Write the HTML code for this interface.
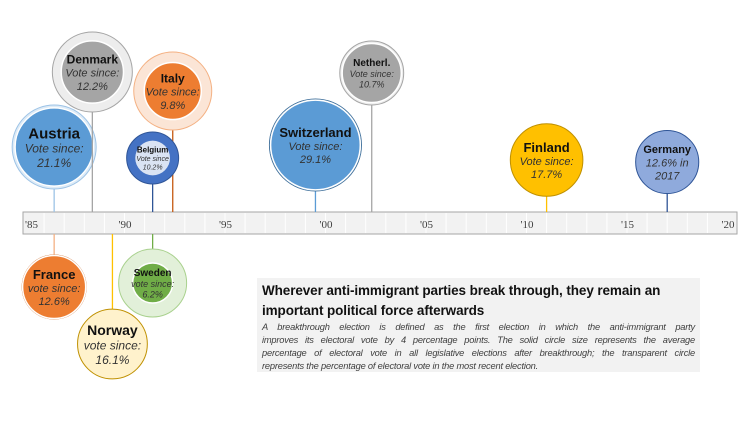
<!DOCTYPE html>
<html><head><meta charset="utf-8"><style>
body{margin:0;background:#fff;width:754px;height:424px;overflow:hidden;font-family:"Liberation Sans",sans-serif}
#box{position:absolute;left:257px;top:278px;width:433px;height:88px;padding:3px 5px;background:#f2f2f2}
#box h1{margin:0;font-size:13.5px;line-height:20px;font-weight:bold;color:#111;letter-spacing:-0.1px}
#box p{margin:0;font-size:9.3px;line-height:13px;font-style:italic;color:#404040;letter-spacing:-0.2px}
#box p span{display:block;white-space:nowrap;text-align:justify;text-align-last:justify}
#box p span.last{text-align-last:left}
</style></head><body>
<svg id="chart" width="754" height="424" style="position:absolute;left:0;top:0"></svg>
<div id="box">
<h1>Wherever anti-immigrant parties break through, they remain an important political force afterwards</h1>
<p><span>A breakthrough election is defined as the first election in which the anti-immigrant party</span><span>improves its electoral vote by 4 percentage points. The solid circle size represents the average</span><span>percentage of electoral vote in all legislative elections after breakthrough; the transparent circle</span><span class="last">represents the percentage of electoral vote in the most recent election.</span></p>
</div>
<script>
const countries=["Austria","Denmark","Italy","Belgium","Switzerland","Netherl.","Finland","Germany","France","Norway","Sweden"];
const years=[1986.5,1988.4,1992.4,1991.4,1999.5,2002.3,2011,2017,1986.5,1989.4,1991.4];
const avgVote=[21.1,12.2,9.8,10.2,29.1,10.7,17.7,12.6,12.6,16.1,6.2];
const recentVote=[25,22.3,21,2.5,30.9,13,0,0,13,15.1,15.1];
const labels=["Vote since:\n21.1%","Vote since:\n12.2%","Vote since:\n9.8%","Vote since\n10.2%","Vote since:\n29.1%","Vote since:\n10.7%","Vote since:\n17.7%","12.6% in\n2017","vote since:\n12.6%","vote since:\n16.1%","vote since:\n6.2%"];
const tickYears=[1985,1990,1995,2000,2005,2010,2015,2020];
const tickLabels=["'85","'90","'95","'00","'05","'10","'15","'20"];
// layout (not data)
const cyPos=[147,72,91,158,145,73,160,162,287,344,283];
const fills=["#5b9bd5","#a5a5a5","#ed7d31","#4472c4","#5b9bd5","#a5a5a5","#ffc000","#8faadc","#ed7d31","#fff2cc","#70ad47"];
const rings=["#ddebf7","#ededed","#fbe5d6","#dae3f3","#ddebf7","#ededed","none","none","#fbe5d6","#fff2cc","#e2f0d9"];
const strokes=["#9dc3e6","#a5a5a5","#f4b183","#2f5597","#41719c","#a5a5a5","#bf9000","#2f5597","#c55a11","#bf9000","#a9d18e"];
const lineCol=["#9dc3e6","#a5a5a5","#c55a11","#2f5597","#5b9bd5","#a5a5a5","#ffc000","#2f5597","#f4b183","#ffc000","#70ad47"];
const nameSize=[15,12,12,8,13,10,13,11,13,14,10];
const subSize=[12,11,11,7,11,9,11,11,11,12,9];

const NS="http://www.w3.org/2000/svg";
const svg=document.getElementById('chart');
const X=y=>24+(y-1985)*20.1;
const R=v=>6+7.2*Math.sqrt(v);
const BAR_T=212,BAR_B=234;
function mk(t,a){const e=document.createElementNS(NS,t);for(const k in a)e.setAttribute(k,a[k]);svg.appendChild(e);return e;}

const bar=mk('rect',{x:23,y:BAR_T,width:714,height:BAR_B-BAR_T,fill:'#f2f2f2',stroke:'#a6a6a6','stroke-width':1});


for(let y=1986;y<2020;y++){
 const g=mk('line',{x1:X(y),x2:X(y),y1:BAR_T+1,y2:BAR_B-1,stroke:'#ffffff','stroke-width':1});
 
 
}
tickYears.forEach((y,i)=>{
 const t=mk('text',{x:X(y)+(i==0?1:-6),y:228,'font-size':11,fill:'#404040','font-family':'Liberation Serif, serif'});
 t.textContent=tickLabels[i];
 
 
});
countries.forEach((c,i)=>{
 const cx=X(years[i]),cy=cyPos[i];
 let r=R(avgVote[i]),ro=R(recentVote[i]);
 if(c==="Sweden")r=20;
 const below=cy>BAR_B;
 let outer=Math.max(r,ro);
 if(c==="Belgium"){r=26;outer=r;}
 const ln=mk('line',{x1:cx,x2:cx,y1:below?BAR_B:cy+outer,y2:below?cy-outer:BAR_T,stroke:lineCol[i],'stroke-width':1.3});
 
 
 if(c==="Belgium"){
  const a=mk('circle',{cx,cy,r,fill:fills[i],stroke:strokes[i]});
  
  
  const b=mk('circle',{cx,cy,r:ro,fill:rings[i]});
  
  
 }else{
  if(ro>r){
   const o=mk('circle',{cx,cy,r:ro,fill:rings[i],stroke:strokes[i],'stroke-width':1});
   
   
  }
  const s=mk('circle',{cx,cy,r,fill:fills[i],stroke:ro>r?'#ffffff':strokes[i],'stroke-width':ro>r?1.5:1});
  
  
 }
 const ns=nameSize[i],ss=subSize[i];
 const parts=labels[i].split('\n');
 const top=cy-(ns+2*ss*1.1)/2+ns*0.8;
 const tn=mk('text',{x:cx,y:top,'text-anchor':'middle','font-size':ns,'font-weight':'bold',fill:'#111'});
 tn.textContent=c;
 
 
 parts.forEach((p,k)=>{
  const t=mk('text',{x:cx,y:top+ss*1.2*(k+1),'text-anchor':'middle','font-size':ss,'font-style':'italic',fill:'#333'});
  t.textContent=p;
  
  
 });
});
</script>
</body></html>
